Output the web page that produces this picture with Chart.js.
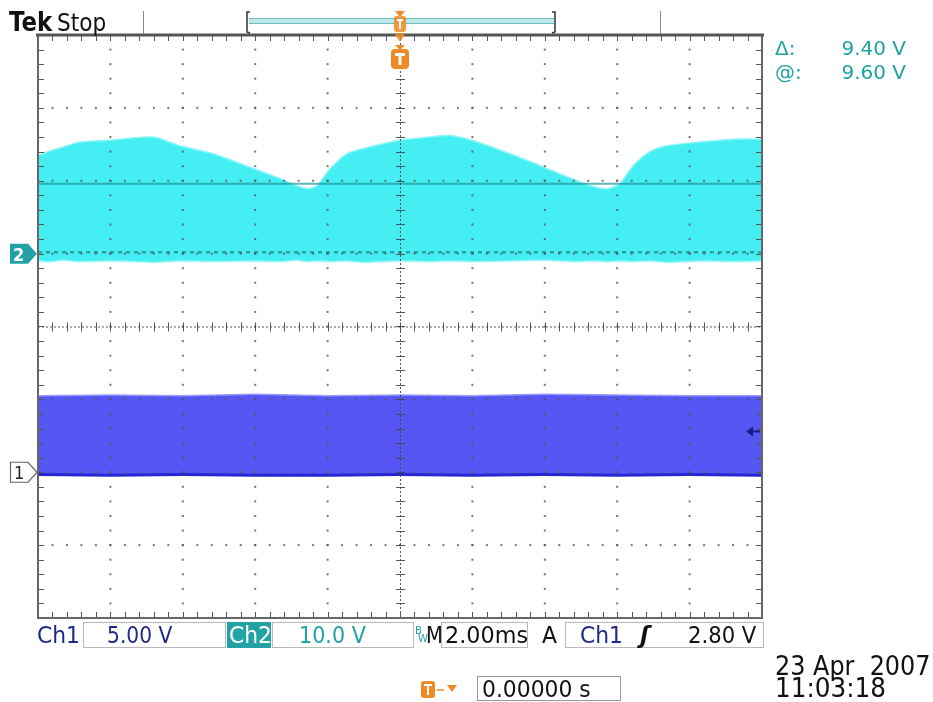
<!DOCTYPE html>
<html><head><meta charset="utf-8">
<script src="https://cdn.jsdelivr.net/npm/chart.js@4"></script>
<style>html,body{margin:0;padding:0;background:#fff;overflow:hidden}canvas{display:block}</style>
</head><body>
<canvas id="c" width="933" height="702"></canvas>
<script>
// ---- data (time in ms, 2 ms/div, trigger at 0) ----
const timeMs   = [-10,-9.67,-9.31,-8.84,-7.93,-6.82,-6.08,-5.17,-4.23,-3.31,-2.85,-2.57,-2.29,-1.93,-1.46,-1.02,-0.08,0.83,1.38,2.02,3.04,3.95,4.89,5.33,5.72,6.08,6.44,6.91,7.38,8.29,9.20,10];
const ch2Upper = [13.3,14.0,14.5,15.2,15.5,15.9,14.7,13.6,11.9,10.2,9.2,8.8,9.2,11.5,13.6,14.3,15.4,15.9,16.1,15.4,13.6,11.8,9.9,9.1,8.8,9.5,11.9,13.9,14.7,15.2,15.6,15.6];
const ch2Lower = [-0.9,-1.0,-0.8,-1.0,-0.9,-1.1,-0.9,-1.0,-0.9,-1.0,-0.8,-1.0,-0.9,-1.0,-0.9,-1.1,-0.9,-1.0,-0.9,-1.0,-0.9,-0.8,-1.0,-0.9,-1.0,-0.9,-1.0,-0.9,-1.1,-0.9,-1.0,-0.9];
const ch1Time  = [-10,-8,-6,-4,-2,0,2,4,6,8,10];
const ch1Upper = [5.2,5.25,5.2,5.3,5.2,5.25,5.2,5.3,5.25,5.2,5.2];
const ch1Lower = [-0.15,-0.2,-0.15,-0.2,-0.2,-0.15,-0.2,-0.15,-0.2,-0.15,-0.2];
const cursorVolts = [9.6, 0.2];        // Ch2 cursors
const trigLevel = 2.80;                // Ch1 trigger level
const xTicks = [-10,-8,-6,-4,-2,0,2,4,6,8,10];
const divTicks = [-4,-3,-2,-1,0,1,2,3,4];

const CYAN = '#45eef2', BLUE = '#5656f4', TEAL = '#22a2a4', NAVY = '#1f2a86';
const FONT = '"DejaVu Sans",sans-serif';

function pts(xs, ys){ return xs.map((x,i)=>({x, y: ys[i]})); }
function txt(ctx, s, x, y, sx){ ctx.save(); ctx.translate(x, y); ctx.scale(sx||1, 1); ctx.fillText(s, 0, 0); ctx.restore(); }

const graticule = {
  id:'graticule',
  afterDatasetsDraw(chart){
    const ctx = chart.ctx, xs = chart.scales.x, ys = chart.scales.yDiv;
    const L = xs.getPixelForValue(-10), R = xs.getPixelForValue(10);
    const T = ys.getPixelForValue(4), B = ys.getPixelForValue(-4);
    const cx = xs.getPixelForValue(0), cy = ys.getPixelForValue(0);
    ctx.save();
    ctx.fillStyle = 'rgba(85,85,85,0.8)';
    xTicks.slice(1,-1).forEach(t=>{
      if (t===0) return;
      const px = xs.getPixelForValue(t);
      for (let d=-4; d<=4.001; d+=0.2){ const py = ys.getPixelForValue(d); ctx.fillRect(px-1, py-1, 2, 2); }
    });
    divTicks.slice(1,-1).forEach(d=>{
      if (d===0) return;
      const py = ys.getPixelForValue(d);
      for (let t=-10; t<=10.001; t+=0.4){ const px = xs.getPixelForValue(t); ctx.fillRect(px-1, py-1, 2, 2); }
    });
    ctx.strokeStyle = 'rgba(70,70,70,0.9)'; ctx.lineWidth = 1;
    ctx.setLineDash([2,2]);
    ctx.beginPath(); ctx.moveTo(L, cy+0.5); ctx.lineTo(R, cy+0.5); ctx.moveTo(cx+0.5, T); ctx.lineTo(cx+0.5, B); ctx.stroke();
    ctx.setLineDash([]);
    ctx.beginPath();
    for (let t=-10; t<=10.001; t+=0.4){ const px = Math.round(xs.getPixelForValue(t))+0.5; ctx.moveTo(px, cy-4); ctx.lineTo(px, cy+5); }
    for (let d=-4; d<=4.001; d+=0.2){ const py = Math.round(ys.getPixelForValue(d))+0.5; ctx.moveTo(cx-4, py); ctx.lineTo(cx+5, py); }
    ctx.stroke();
    ctx.strokeStyle = '#555';
    ctx.beginPath();
    for (let t=-10; t<=10.001; t+=0.4){ const px = Math.round(xs.getPixelForValue(t))+0.5; ctx.moveTo(px, T); ctx.lineTo(px, T+6); ctx.moveTo(px, B); ctx.lineTo(px, B-6); }
    for (let d=-4; d<=4.001; d+=0.2){ const py = Math.round(ys.getPixelForValue(d))+0.5; ctx.moveTo(L, py); ctx.lineTo(L+6, py); ctx.moveTo(R, py); ctx.lineTo(R-6, py); }
    ctx.stroke();
    ctx.strokeStyle = '#666'; ctx.lineWidth = 2;
    ctx.strokeRect(L, T, R-L, B-T);
    ctx.strokeStyle = '#555'; ctx.lineWidth = 3;
    ctx.beginPath(); ctx.moveTo(L-2, T); ctx.lineTo(R+2, T); ctx.stroke();
    ctx.restore();
  },
  afterDraw(chart){
    const ctx = chart.ctx, xs = chart.scales.x, ys = chart.scales.yDiv;
    const y1 = chart.scales.y1, y2 = chart.scales.y2;
    const R = xs.getPixelForValue(10);
    const B = ys.getPixelForValue(-4);
    const cx = xs.getPixelForValue(0);
    ctx.save();
    ctx.fillStyle = '#111'; ctx.textBaseline = 'alphabetic';
    ctx.font = 'bold 26px ' + FONT; txt(ctx, 'Tek', 9, 31, 0.88);
    ctx.font = '24px ' + FONT; txt(ctx, 'Stop', 57, 31, 0.9);
    ctx.strokeStyle = '#888'; ctx.lineWidth = 1;
    ctx.beginPath(); ctx.moveTo(143.5, 11); ctx.lineTo(143.5, 34); ctx.moveTo(660.5, 11); ctx.lineTo(660.5, 34); ctx.stroke();
    ctx.strokeStyle = '#333'; ctx.lineWidth = 1.5;
    ctx.beginPath(); ctx.moveTo(250, 12); ctx.lineTo(247, 12); ctx.lineTo(247, 32); ctx.lineTo(250, 33);
    ctx.moveTo(552, 12); ctx.lineTo(555, 12); ctx.lineTo(555, 32); ctx.lineTo(552, 33); ctx.stroke();
    ctx.fillStyle = '#bfe6e8'; ctx.fillRect(249, 19, 305, 4);
    ctx.fillStyle = '#6fbcbf'; ctx.fillRect(249, 18, 305, 1); ctx.fillRect(249, 23, 305, 1);
    ctx.fillStyle = '#f08a24';
    ctx.beginPath(); ctx.moveTo(cx-5, 11); ctx.lineTo(cx+5, 11); ctx.lineTo(cx+1, 16); ctx.lineTo(cx-1, 16); ctx.closePath(); ctx.fill();
    ctx.fillStyle = 'rgba(240,138,36,0.85)';
    ctx.beginPath(); ctx.roundRect(cx-6, 16, 12, 16, 3); ctx.fill();
    ctx.beginPath(); ctx.moveTo(cx-6, 33); ctx.lineTo(cx+6, 33); ctx.lineTo(cx, 42); ctx.closePath(); ctx.fill();
    ctx.fillStyle = '#fff'; ctx.fillRect(cx-3, 19, 6, 2); ctx.fillRect(cx-1, 19, 2, 10);
    ctx.fillStyle = '#f08a24';
    ctx.beginPath(); ctx.moveTo(cx-5, 45); ctx.lineTo(cx+5, 45); ctx.lineTo(cx, 50); ctx.closePath(); ctx.fill();
    ctx.beginPath(); ctx.roundRect(cx-9, 49, 18, 20, 4); ctx.fill();
    ctx.fillStyle = '#fff'; ctx.fillRect(cx-5, 53, 10, 3); ctx.fillRect(cx-1.5, 53, 3, 12);
    // cursor readouts
    ctx.fillStyle = TEAL; ctx.font = '20px ' + FONT;
    ctx.fillText('\u0394:', 775, 55); ctx.fillText('@:', 775, 79);
    ctx.textAlign = 'right';
    ctx.fillText('9.40 V', 906, 55); ctx.fillText('9.60 V', 906, 79);
    ctx.textAlign = 'left';
    // channel ground markers
    const g2 = y2.getPixelForValue(0), g1 = y1.getPixelForValue(0);
    ctx.fillStyle = TEAL;
    ctx.beginPath(); ctx.moveTo(10, g2-10); ctx.lineTo(28, g2-10); ctx.lineTo(37, g2); ctx.lineTo(28, g2+10); ctx.lineTo(10, g2+10); ctx.closePath(); ctx.fill();
    ctx.fillStyle = '#fff'; ctx.font = 'bold 18px ' + FONT; txt(ctx, '2', 13, g2+7, 0.9);
    ctx.fillStyle = '#fff'; ctx.strokeStyle = '#666'; ctx.lineWidth = 1.2;
    ctx.beginPath(); ctx.moveTo(10.5, g1-10); ctx.lineTo(28, g1-10); ctx.lineTo(37, g1); ctx.lineTo(28, g1+10); ctx.lineTo(10.5, g1+10); ctx.closePath(); ctx.fill(); ctx.stroke();
    ctx.fillStyle = '#222'; ctx.font = '18px ' + FONT; txt(ctx, '1', 14, g1+7, 0.9);
    // trigger level arrow (Ch1)
    const tl = y1.getPixelForValue(trigLevel);
    ctx.fillStyle = '#1a1a8a';
    ctx.beginPath(); ctx.moveTo(R-16, tl); ctx.lineTo(R-9, tl-5); ctx.lineTo(R-9, tl+5); ctx.closePath(); ctx.fill();
    ctx.fillRect(R-10, tl-1, 8, 2);
    // bottom readout bar
    const by = B+4, bh = 25;
    ctx.strokeStyle = '#b8b8b8'; ctx.lineWidth = 1;
    [[83,142],[272,141],[441,86],[565,198]].forEach(([x,w])=>{ ctx.strokeRect(x+0.5, by+0.5, w, bh); });
    ctx.fillStyle = TEAL; ctx.fillRect(227, by, 44, bh+1);
    ctx.font = '23px ' + FONT;
    const bl = by + 21;
    ctx.fillStyle = NAVY; txt(ctx, 'Ch1', 37, bl, 0.95); txt(ctx, '5.00 V', 107, bl, 0.88);
    ctx.fillStyle = '#fff'; txt(ctx, 'Ch2', 229, bl, 0.95);
    ctx.fillStyle = TEAL; txt(ctx, '10.0 V', 299, bl, 0.9);
    ctx.font = '10px ' + FONT; ctx.fillText('B', 415, by+12); ctx.fillText('W', 418, by+20);
    ctx.font = '23px ' + FONT; ctx.fillStyle = '#111';
    txt(ctx, 'M', 426, bl, 0.85); txt(ctx, '2.00ms', 445, bl, 0.97); txt(ctx, 'A', 542, bl, 0.95);
    ctx.fillStyle = NAVY; txt(ctx, 'Ch1', 580, bl, 0.95);
    ctx.fillStyle = '#111'; ctx.font = 'italic bold 23px ' + FONT; txt(ctx, '\u0283', 640, bl, 1);
    ctx.font = '23px ' + FONT; txt(ctx, '2.80 V', 688, bl, 0.92);
    // date/time
    ctx.font = '26px ' + FONT;
    txt(ctx, '23 Apr  2007', 775, 675, 0.92); txt(ctx, '11:03:18', 775, 697, 0.95);
    // trigger offset
    ctx.fillStyle = '#f08a24';
    ctx.beginPath(); ctx.roundRect(421, 681, 14, 17, 3); ctx.fill();
    ctx.fillStyle = '#fff'; ctx.fillRect(424, 684, 8, 2); ctx.fillRect(427, 684, 2, 11);
    ctx.fillStyle = '#f6a860'; ctx.fillRect(437, 689, 7, 2);
    ctx.fillStyle = '#f08a24';
    ctx.beginPath(); ctx.moveTo(447, 685); ctx.lineTo(457, 685); ctx.lineTo(452, 692); ctx.closePath(); ctx.fill();
    ctx.strokeStyle = '#999'; ctx.strokeRect(477.5, 676.5, 143, 24);
    ctx.fillStyle = '#111'; ctx.font = '23px ' + FONT; txt(ctx, '0.00000 s', 482, 697, 0.95);
    ctx.restore();
  }
};

new Chart(document.getElementById('c'), {
  type: 'line',
  data: { datasets: [
    { data: pts(timeMs, ch2Lower), yAxisID:'y2', borderWidth:3, borderColor:'rgba(69,238,242,0.55)', pointRadius:0, fill:false, tension:0.2, order:3 },
    { data: pts(timeMs, ch2Upper), yAxisID:'y2', borderWidth:3, borderColor:'rgba(69,238,242,0.6)', backgroundColor:CYAN, pointRadius:0, fill:'-1', tension:0.25, order:4 },
    { data: pts(ch1Time, ch1Lower), yAxisID:'y1', borderWidth:3, borderColor:'#2626d4', pointRadius:0, fill:false, order:1 },
    { data: pts(ch1Time, ch1Upper), yAxisID:'y1', borderWidth:3, borderColor:'rgba(86,86,244,0.6)', backgroundColor:BLUE, pointRadius:0, fill:'-1', order:2 },
    { data: [{x:-10,y:cursorVolts[0]},{x:10,y:cursorVolts[0]}], yAxisID:'y2', borderWidth:2, borderColor:'rgba(30,150,155,0.7)', pointRadius:0, fill:false, order:0 },
    { data: [{x:-10,y:cursorVolts[1]},{x:10,y:cursorVolts[1]}], yAxisID:'y2', borderWidth:2, borderColor:'rgba(30,120,125,0.8)', borderDash:[4,4], pointRadius:0, fill:false, order:0 }
  ]},
  options: {
    responsive:false, animation:false, events:[],
    layout:{ padding:{ left:38, right:171, top:35, bottom:84 } },
    plugins:{ legend:{display:false}, tooltip:{enabled:false} },
    scales:{
      x:{ type:'linear', min:-10, max:10, display:false },
      yDiv:{ min:-4, max:4, display:false },
      y1:{ min:-10, max:30, display:false },
      y2:{ min:-50, max:30, display:false }
    }
  },
  plugins:[graticule]
});
</script>
</body></html>
